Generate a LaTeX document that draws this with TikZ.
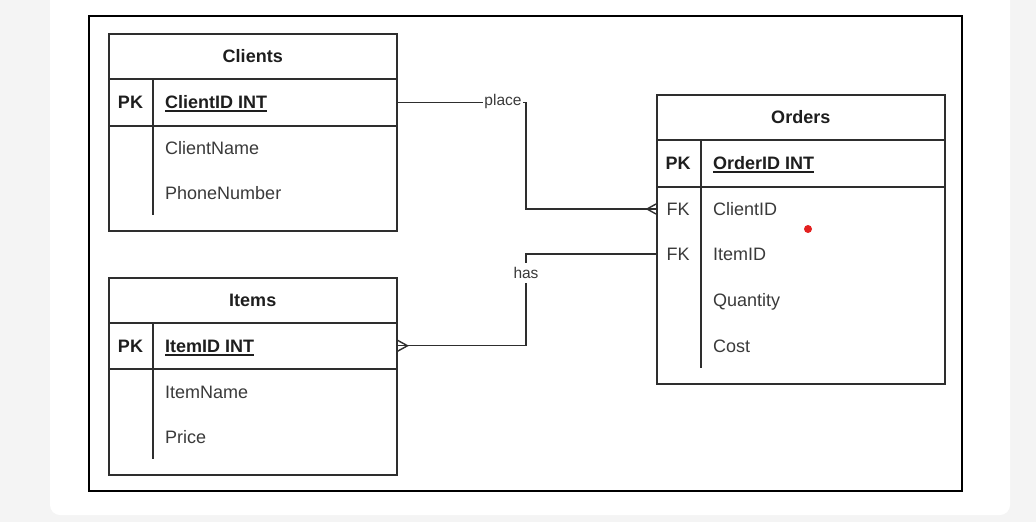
\documentclass[tikz,border=0pt]{standalone}
\usepackage{fontspec}
\setmainfont{Liberation Sans}
\usetikzlibrary{calc}
\definecolor{pagebg}{HTML}{F4F4F4}
\definecolor{linec}{HTML}{2E2E2E}
\definecolor{fieldc}{HTML}{3A3A3A}
\definecolor{boldc}{HTML}{1E1E1E}
\definecolor{dotred}{HTML}{E3201F}
\newsavebox\ulbox
\newcommand\ulx[1]{\sbox\ulbox{#1}\rlap{\rule[-3.5pt]{\wd\ulbox}{1.7pt}}\usebox\ulbox}
\begin{document}
\begin{tikzpicture}[x=1pt,y=-1pt,
  tbox/.style={draw=linec,line width=1.5pt,minimum width=288pt,inner sep=0pt,anchor=north west},
  hdr/.style={font=\fontsize{18pt}{21pt}\selectfont\bfseries,text=boldc,text height=12.9pt,text depth=0pt},
  bt/.style={font=\fontsize{18pt}{21pt}\selectfont\bfseries,text=boldc,inner sep=0pt,text height=12.9pt,text depth=0pt},
  ft/.style={font=\fontsize{18pt}{21pt}\selectfont,text=fieldc,inner sep=0pt,text height=12.9pt,text depth=0pt},
  tline/.style={draw=linec,line width=1.5pt},
  conn/.style={draw=linec,line width=1.4pt},
  lbl/.style={font=\fontsize{15.5pt}{18pt}\selectfont,text=fieldc,fill=white,inner xsep=1pt,inner ysep=1pt}]
\useasboundingbox (0,0) rectangle (1036,522);
\fill[pagebg] (0,0) rectangle (1036,522);
\fill[white,rounded corners=10pt] (50,-20) rectangle (1010,515);
\draw[black,line width=1.5pt] (89,16) rectangle (962,491);

% Clients
\node[tbox,minimum height=45pt,hdr] (cH) at (108,33) {Clients};
\node[tbox,minimum height=47pt] (cPK) at (108,78) {};
\node[tbox,minimum height=105pt] (cB) at (108,125) {};
\draw[tline] ($(cPK.north west)+(45,0)$) -- ++(0,137);
\node[bt] (cPKt) at (130.5,102) {PK};
\node[bt,anchor=west] (cID) at (165,102) {\ulx{ClientID INT}};
\node[ft,anchor=west] (cN) at (165,148) {ClientName};
\node[ft,anchor=west] (cPh) at (165,193) {PhoneNumber};

% Items
\node[tbox,minimum height=45pt,hdr] (iH) at (108,277) {Items};
\node[tbox,minimum height=46pt] (iPK) at (108,322) {};
\node[tbox,minimum height=106pt] (iB) at (108,368) {};
\draw[tline] ($(iPK.north west)+(45,0)$) -- ++(0,137);
\node[bt] (iPKt) at (130.5,346) {PK};
\node[bt,anchor=west] (iID) at (165,346) {\ulx{ItemID INT}};
\node[ft,anchor=west] (iN) at (165,392) {ItemName};
\node[ft,anchor=west] (iPr) at (165,437) {Price};

% Orders
\node[tbox,minimum height=45pt,hdr] (oH) at (656,94) {Orders};
\node[tbox,minimum height=47pt] (oPK) at (656,139) {};
\node[tbox,minimum height=197pt] (oB) at (656,186) {};
\draw[tline] ($(oPK.north west)+(45,0)$) -- ++(0,229);
\node[bt] (oPKt) at (678,163) {PK};
\node[bt,anchor=west] (oID) at (713,163) {\ulx{OrderID INT}};
\node[ft] (oFK1) at (678,209) {FK};
\node[ft,anchor=west] (oCID) at (713,209) {ClientID};
\node[ft] (oFK2) at (678,254) {FK};
\node[ft,anchor=west] (oIID) at (713,254) {ItemID};
\node[ft,anchor=west] (oQ) at (713,300) {Quantity};
\node[ft,anchor=west] (oC) at (713,346) {Cost};

% connectors
\coordinate (j1) at (526,150);
\coordinate (j2) at (526,300);
\draw[conn] (cPK.east) -| (j1) |- (oB.west |- oCID.center);
\draw[conn] ($(oB.west |- oCID.center)+(0,-5)$) -- ++(-9,5) -- ++(9,5);
\draw[conn] (oB.west |- oIID.center) -| (j2) |- (iPK.east);
\draw[conn] ($(iPK.east)+(0,-5.5)$) -- ++(10,5.5) -- ++(-10,5.5);
\node[lbl] (lplace) at (503,101.5) {place};
\node[lbl,inner ysep=4pt] (lhas) at (526,273) {has};

\fill[dotred] (808,229) circle (4pt);
\end{tikzpicture}
\end{document}
